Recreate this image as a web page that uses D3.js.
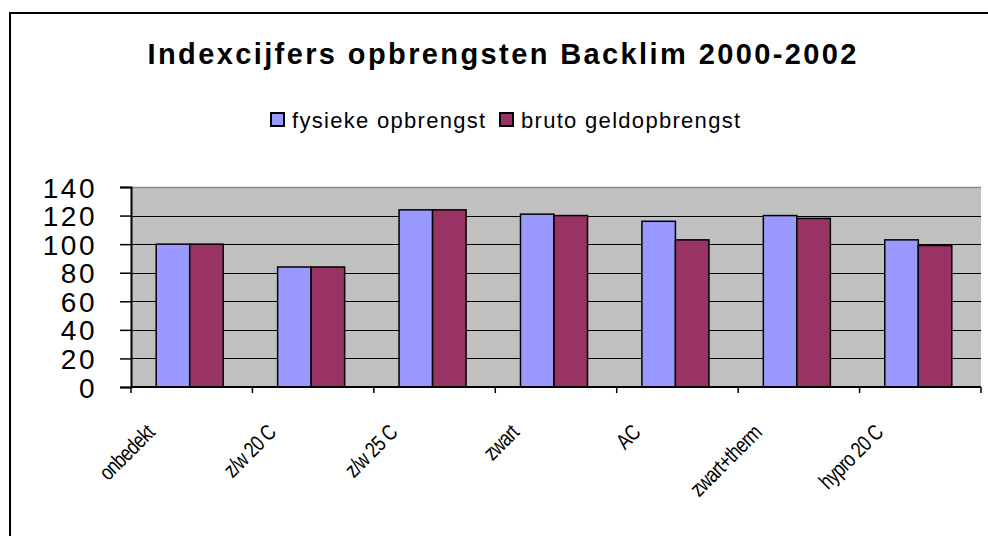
<!DOCTYPE html>
<html>
<head>
<meta charset="UTF-8" />
<title>Indexcijfers opbrengsten Backlim 2000-2002</title>
<script src="https://cdn.jsdelivr.net/npm/d3@7"></script>
<style>
body{margin:0;background:#fff;}
text{font-family:Arial,"Liberation Sans",sans-serif;fill:#000;}
</style>
</head>
<body>
<div id="chart"></div>
<script type="text/javascript">
var w=988,h=536;
var plotL=131,plotR=981,plotT=187,plotB=387;

var categories=['onbedekt','z/w 20 C','z/w 25 C','zwart','AC','zwart+therm','hypro 20 C'];
var seriesNames=['fysieke opbrengst','bruto geldopbrengst'];
var fysiek=[100,84,124,121,116,120,103];
var bruto=[100,84,124,120,103,118,99];
var yTicks=[0,20,40,60,80,100,120,140];
var colors=['#9999FF','#993366'];

var svg=d3.select('#chart')
          .append('svg')
          .attr('width',w)
          .attr('height',h);

// chart border (runs off the right/bottom edge)
svg.append('rect')
   .attr('x',10).attr('y',13)
   .attr('width',1000).attr('height',600)
   .attr('fill','none')
   .attr('stroke','#000')
   .attr('stroke-width',2);

var x=d3.scaleBand().domain(categories).range([plotL,plotR]);
var y=d3.scaleLinear().domain([0,140]).range([plotB,plotT]);
var bw=x.bandwidth();
var groupW=bw*0.552;
var x1=d3.scaleBand().domain(seriesNames).range([(bw-groupW)/2-2,(bw+groupW)/2-2]);

// plot area
svg.append('rect')
   .attr('x',plotL).attr('y',plotT)
   .attr('width',plotR-plotL).attr('height',plotB-plotT)
   .attr('fill','#C0C0C0');
svg.append('line')
   .attr('x1',plotL).attr('x2',plotR)
   .attr('y1',plotT+0.5).attr('y2',plotT+0.5)
   .attr('stroke','#8a8a8a').attr('stroke-width',1.5);

// gridlines
svg.selectAll('.grid')
   .data(yTicks.filter(function(d){return d>0&&d<140;}))
   .enter()
   .append('line')
   .attr('x1',plotL).attr('x2',plotR)
   .attr('y1',function(d){return Math.round(y(d))+0.5;})
   .attr('y2',function(d){return Math.round(y(d))+0.5;})
   .attr('stroke','#000')
   .attr('stroke-width',1.2);

// bars
var data=categories.map(function(c,i){
  return {cat:c,vals:[{s:seriesNames[0],v:fysiek[i],c:colors[0]},{s:seriesNames[1],v:bruto[i],c:colors[1]}]};
});
var groups=svg.selectAll('.grp')
              .data(data)
              .enter()
              .append('g')
              .attr('transform',function(d){return 'translate('+x(d.cat)+',0)';});
groups.selectAll('rect')
      .data(function(d){return d.vals;})
      .enter()
      .append('rect')
      .attr('x',function(d){return x1(d.s);})
      .attr('y',function(d){return y(d.v);})
      .attr('width',x1.bandwidth())
      .attr('height',function(d){return plotB-y(d.v);})
      .attr('fill',function(d){return d.c;})
      .attr('stroke','#000')
      .attr('stroke-width',1.5);

// y axis
var yAxis=d3.axisLeft(y).tickValues(yTicks).tickSize(11).tickPadding(0).tickFormat(d3.format('d'));
var ya=svg.append('g').attr('transform','translate('+plotL+',0)').call(yAxis);
ya.select('.domain').attr('stroke','#000').attr('stroke-width',2);
ya.selectAll('.tick line').attr('stroke','#000').attr('stroke-width',1.5);
ya.selectAll('.tick text')
  .attr('x',-34)
  .attr('dy','0.36em')
  .attr('fill','#000')
  .style('font-size','28px')
  .style('letter-spacing','2.5px')
  .style('font-family','Arial,"Liberation Sans",sans-serif');

// x axis
svg.append('line')
   .attr('x1',plotL).attr('x2',plotR)
   .attr('y1',plotB).attr('y2',plotB)
   .attr('stroke','#000').attr('stroke-width',2);
var xTickPos=categories.map(function(c){return x(c);}).concat([plotR]);
svg.selectAll('.xtick')
   .data(xTickPos)
   .enter()
   .append('line')
   .attr('x1',function(d){return d;}).attr('x2',function(d){return d;})
   .attr('y1',plotB).attr('y2',plotB+6)
   .attr('stroke','#000').attr('stroke-width',1.5);

// category labels: tall, squeezed glyphs like the original
svg.selectAll('.xlab')
   .data(categories)
   .enter()
   .append('text')
   .attr('text-anchor','end')
   .attr('transform',function(d){
     var cx=x(d)+bw/2-36,cy=434;
     return 'translate('+cx+','+cy+') rotate(-45) scale(0.8,1)';
   })
   .style('font-size','22px')
   .style('letter-spacing','-0.8px')
   .text(function(d){return d;});

// title
svg.append('text')
   .attr('x',502).attr('y',64)
   .attr('text-anchor','middle')
   .attr('textLength',709)
   .attr('lengthAdjust','spacing')
   .style('font-size','29px')
   .style('font-weight','bold')
   .text('Indexcijfers opbrengsten Backlim 2000-2002');

// legend
var legX=[271,500];
var leg=svg.selectAll('.leg')
           .data(seriesNames)
           .enter()
           .append('g')
           .attr('transform',function(d,i){return 'translate('+legX[i]+',113)';});
leg.append('rect')
   .attr('width',13).attr('height',13)
   .attr('fill',function(d,i){return colors[i];})
   .attr('stroke','#000').attr('stroke-width',2);
leg.append('text')
   .attr('x',21).attr('y',15)
   .style('font-size','22px')
   .style('letter-spacing','1.3px')
   .text(function(d){return d;});
</script>
</body>
</html>
